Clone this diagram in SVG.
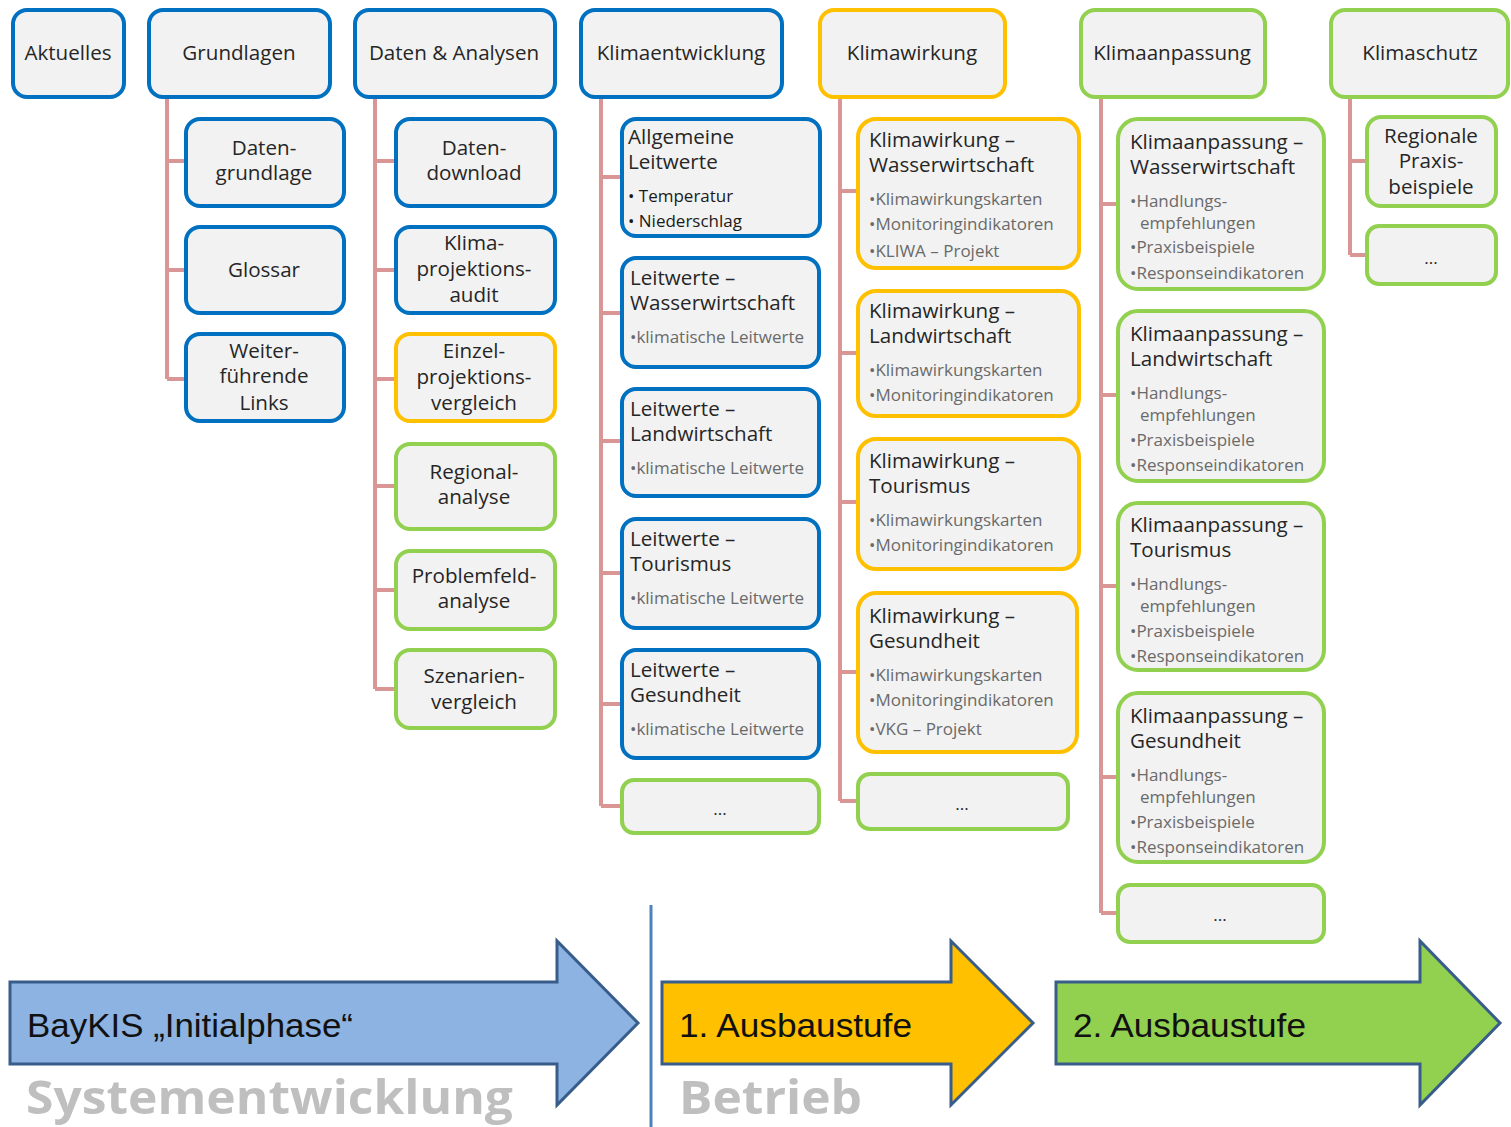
<svg xmlns="http://www.w3.org/2000/svg" width="1511" height="1127" viewBox="0 0 1511 1127">
<style>
.n rect{fill:#f2f2f2;stroke-width:4}
.b rect{stroke:#0070c0}
.o rect{stroke:#ffc000}
.g rect{stroke:#92d050}
text{font-family:"Open Sans","Noto Sans",sans-serif;fill:#262626}
.t{font-size:20.6px}
.c{text-anchor:middle}
.s{font-size:17px;fill:#6a6a6a}
.k{font-size:17px;fill:#1a1a1a}
.con path{fill:none;stroke:#d99694;stroke-width:4}
.big{font-family:"Liberation Sans Narrow","Liberation Sans",sans-serif;font-size:33px;fill:#111}
.gr{font-family:"Open Sans",sans-serif;font-weight:bold;font-size:47px;fill:#bfbfbf}
.ar{stroke:#385d8a;stroke-width:3;stroke-linejoin:miter}
</style>
<rect width="1511" height="1127" fill="#fff"/>
<g class="con">
<path d="M167 97V379M167 161H186M167 270H186M167 379H186"/>
<path d="M375 97V689M375 161H396M375 270H396M375 379H396M375 486H396M375 590H396M375 689H396"/>
<path d="M601 97V806M601 177H622M601 313H622M601 441H622M601 573H622M601 704H622M601 806H622"/>
<path d="M840 97V801M840 191H858M840 353H858M840 502H858M840 672H858M840 801H858"/>
<path d="M1101 97V913M1101 204H1118M1101 395H1118M1101 586H1118M1101 777H1118M1101 913H1118"/>
<path d="M1350 97V255M1350 161H1367M1350 255H1367"/>
</g>
<g id="aktuelles" class="n b"><rect x="13" y="10" width="111" height="87" rx="14"/><text class="t c" x="68" y="60">Aktuelles</text></g>
<g id="grundlagen" class="n b"><rect x="149" y="10" width="181" height="87" rx="14"/><text class="t c" x="239" y="60">Grundlagen</text></g>
<g id="daten-analysen" class="n b"><rect x="355" y="10" width="200" height="87" rx="14"/><text class="t c" x="454" y="60">Daten &amp; Analysen</text></g>
<g id="klimaentwicklung" class="n b"><rect x="581" y="10" width="201" height="87" rx="14"/><text class="t c" x="681" y="60">Klimaentwicklung</text></g>
<g id="klimawirkung" class="n o"><rect x="820" y="10" width="185" height="87" rx="14"/><text class="t c" x="912" y="60">Klimawirkung</text></g>
<g id="klimaanpassung" class="n g"><rect x="1081" y="10" width="184" height="87" rx="14"/><text class="t c" x="1172" y="60">Klimaanpassung</text></g>
<g id="klimaschutz" class="n g"><rect x="1331" y="10" width="177" height="87" rx="14"/><text class="t c" x="1420" y="60">Klimaschutz</text></g>

<g id="datengrundlage" class="n b"><rect x="186" y="119" width="158" height="87" rx="14"/><text class="t c" x="264" y="155">Daten-</text><text class="t c" x="264" y="180">grundlage</text></g>
<g id="glossar" class="n b"><rect x="186" y="227" width="158" height="86" rx="14"/><text class="t c" x="264" y="277">Glossar</text></g>
<g id="links" class="n b"><rect x="186" y="334" width="158" height="87" rx="14"/><text class="t c" x="264" y="358">Weiter-</text><text class="t c" x="264" y="383">führende</text><text class="t c" x="264" y="410">Links</text></g>

<g id="datendownload" class="n b"><rect x="396" y="119" width="159" height="87" rx="14"/><text class="t c" x="474" y="155">Daten-</text><text class="t c" x="474" y="180">download</text></g>
<g id="audit" class="n b"><rect x="396" y="227" width="159" height="86" rx="14"/><text class="t c" x="474" y="250">Klima-</text><text class="t c" x="474" y="276">projektions-</text><text class="t c" x="474" y="302">audit</text></g>
<g id="einzel" class="n o"><rect x="396" y="334" width="159" height="87" rx="14"/><text class="t c" x="474" y="358">Einzel-</text><text class="t c" x="474" y="384">projektions-</text><text class="t c" x="474" y="410">vergleich</text></g>
<g id="regional" class="n g"><rect x="396" y="444" width="159" height="85" rx="14"/><text class="t c" x="474" y="479">Regional-</text><text class="t c" x="474" y="504">analyse</text></g>
<g id="problemfeld" class="n g"><rect x="396" y="551" width="159" height="78" rx="14"/><text class="t c" x="474" y="583">Problemfeld-</text><text class="t c" x="474" y="608">analyse</text></g>
<g id="szenarien" class="n g"><rect x="396" y="650" width="159" height="78" rx="14"/><text class="t c" x="474" y="683">Szenarien-</text><text class="t c" x="474" y="709">vergleich</text></g>

<g id="allg-leitwerte" class="n b"><rect x="622" y="119" width="198" height="117" rx="14"/><text class="t" x="628" y="144">Allgemeine</text><text class="t" x="628" y="169">Leitwerte</text><text class="k" x="628" y="202">• Temperatur</text><text class="k" x="628" y="227">• Niederschlag</text></g>
<g id="lw-wasser" class="n b"><rect x="622" y="258" width="197" height="109" rx="14"/><text class="t" x="630" y="285">Leitwerte –</text><text class="t" x="630" y="310">Wasserwirtschaft</text><text class="s" x="630" y="343">•klimatische Leitwerte</text></g>
<g id="lw-land" class="n b"><rect x="622" y="389" width="197" height="107" rx="14"/><text class="t" x="630" y="416">Leitwerte –</text><text class="t" x="630" y="441">Landwirtschaft</text><text class="s" x="630" y="474">•klimatische Leitwerte</text></g>
<g id="lw-tour" class="n b"><rect x="622" y="519" width="197" height="109" rx="14"/><text class="t" x="630" y="546">Leitwerte –</text><text class="t" x="630" y="571">Tourismus</text><text class="s" x="630" y="604">•klimatische Leitwerte</text></g>
<g id="lw-gesund" class="n b"><rect x="622" y="650" width="197" height="108" rx="14"/><text class="t" x="630" y="677">Leitwerte –</text><text class="t" x="630" y="702">Gesundheit</text><text class="s" x="630" y="735">•klimatische Leitwerte</text></g>
<g id="lw-more" class="n g"><rect x="622" y="780" width="197" height="53" rx="12"/><text class="s c" x="720" y="815" style="fill:#262626">...</text></g>

<g id="kw-wasser" class="n o"><rect x="858" y="119" width="221" height="149" rx="18"/><text class="t" x="869" y="147">Klimawirkung –</text><text class="t" x="869" y="172">Wasserwirtschaft</text><text class="s" x="869" y="205">•Klimawirkungskarten</text><text class="s" x="869" y="230">•Monitoringindikatoren</text><text class="s" x="869" y="257">•KLIWA – Projekt</text></g>
<g id="kw-land" class="n o"><rect x="858" y="291" width="221" height="125" rx="18"/><text class="t" x="869" y="318">Klimawirkung –</text><text class="t" x="869" y="343">Landwirtschaft</text><text class="s" x="869" y="376">•Klimawirkungskarten</text><text class="s" x="869" y="401">•Monitoringindikatoren</text></g>
<g id="kw-tour" class="n o"><rect x="858" y="439" width="221" height="130" rx="18"/><text class="t" x="869" y="468">Klimawirkung –</text><text class="t" x="869" y="493">Tourismus</text><text class="s" x="869" y="526">•Klimawirkungskarten</text><text class="s" x="869" y="551">•Monitoringindikatoren</text></g>
<g id="kw-gesund" class="n o"><rect x="858" y="593" width="219" height="159" rx="18"/><text class="t" x="869" y="623">Klimawirkung –</text><text class="t" x="869" y="648">Gesundheit</text><text class="s" x="869" y="681">•Klimawirkungskarten</text><text class="s" x="869" y="706">•Monitoringindikatoren</text><text class="s" x="869" y="735">•VKG – Projekt</text></g>
<g id="kw-more" class="n g"><rect x="858" y="774" width="210" height="55" rx="12"/><text class="s c" x="962" y="810" style="fill:#262626">...</text></g>

<g id="ka-wasser" class="n g"><rect x="1118" y="119" width="206" height="170" rx="20"/><text class="t" x="1130" y="149">Klimaanpassung –</text><text class="t" x="1130" y="174">Wasserwirtschaft</text><text class="s" x="1130" y="207">•Handlungs-</text><text class="s" x="1140" y="229">empfehlungen</text><text class="s" x="1130" y="253">•Praxisbeispiele</text><text class="s" x="1130" y="279">•Responseindikatoren</text></g>
<g id="ka-land" class="n g"><rect x="1118" y="311" width="206" height="170" rx="20"/><text class="t" x="1130" y="341">Klimaanpassung –</text><text class="t" x="1130" y="366">Landwirtschaft</text><text class="s" x="1130" y="399">•Handlungs-</text><text class="s" x="1140" y="421">empfehlungen</text><text class="s" x="1130" y="446">•Praxisbeispiele</text><text class="s" x="1130" y="471">•Responseindikatoren</text></g>
<g id="ka-tour" class="n g"><rect x="1118" y="503" width="206" height="167" rx="20"/><text class="t" x="1130" y="532">Klimaanpassung –</text><text class="t" x="1130" y="557">Tourismus</text><text class="s" x="1130" y="590">•Handlungs-</text><text class="s" x="1140" y="612">empfehlungen</text><text class="s" x="1130" y="637">•Praxisbeispiele</text><text class="s" x="1130" y="662">•Responseindikatoren</text></g>
<g id="ka-gesund" class="n g"><rect x="1118" y="693" width="206" height="169" rx="20"/><text class="t" x="1130" y="723">Klimaanpassung –</text><text class="t" x="1130" y="748">Gesundheit</text><text class="s" x="1130" y="781">•Handlungs-</text><text class="s" x="1140" y="803">empfehlungen</text><text class="s" x="1130" y="828">•Praxisbeispiele</text><text class="s" x="1130" y="853">•Responseindikatoren</text></g>
<g id="ka-more" class="n g"><rect x="1118" y="885" width="206" height="57" rx="12"/><text class="s c" x="1220" y="921" style="fill:#262626">...</text></g>

<g id="ks-praxis" class="n g"><rect x="1367" y="117" width="129" height="89" rx="14"/><text class="t c" x="1431" y="143">Regionale</text><text class="t c" x="1431" y="168">Praxis-</text><text class="t c" x="1431" y="194">beispiele</text></g>
<g id="ks-more" class="n g"><rect x="1367" y="226" width="129" height="58" rx="12"/><text class="s c" x="1431" y="264" style="fill:#262626">...</text></g>

<line x1="651" y1="905" x2="651" y2="1127" stroke="#4f81bd" stroke-width="3"/>
<g id="phase1">
<path class="ar" fill="#8db3e2" d="M10 982H557V941L638 1023L557 1105V1064H10Z"/>
<text class="big" x="27" y="1037" textLength="326" lengthAdjust="spacingAndGlyphs">BayKIS „Initialphase“</text>
<text class="gr" x="26" y="1114" textLength="487" lengthAdjust="spacingAndGlyphs">Systementwicklung</text>
</g>
<g id="phase2">
<path class="ar" fill="#ffc000" d="M662 982H951V941L1033 1023L951 1105V1064H662Z"/>
<text class="big" x="679" y="1037" textLength="233" lengthAdjust="spacingAndGlyphs">1. Ausbaustufe</text>
<text class="gr" x="679" y="1114" textLength="183" lengthAdjust="spacingAndGlyphs">Betrieb</text>
</g>
<g id="phase3">
<path class="ar" fill="#92d050" d="M1056 982H1420V941L1500 1023L1420 1105V1064H1056Z"/>
<text class="big" x="1073" y="1037" textLength="233" lengthAdjust="spacingAndGlyphs">2. Ausbaustufe</text>
</g>
</svg>
